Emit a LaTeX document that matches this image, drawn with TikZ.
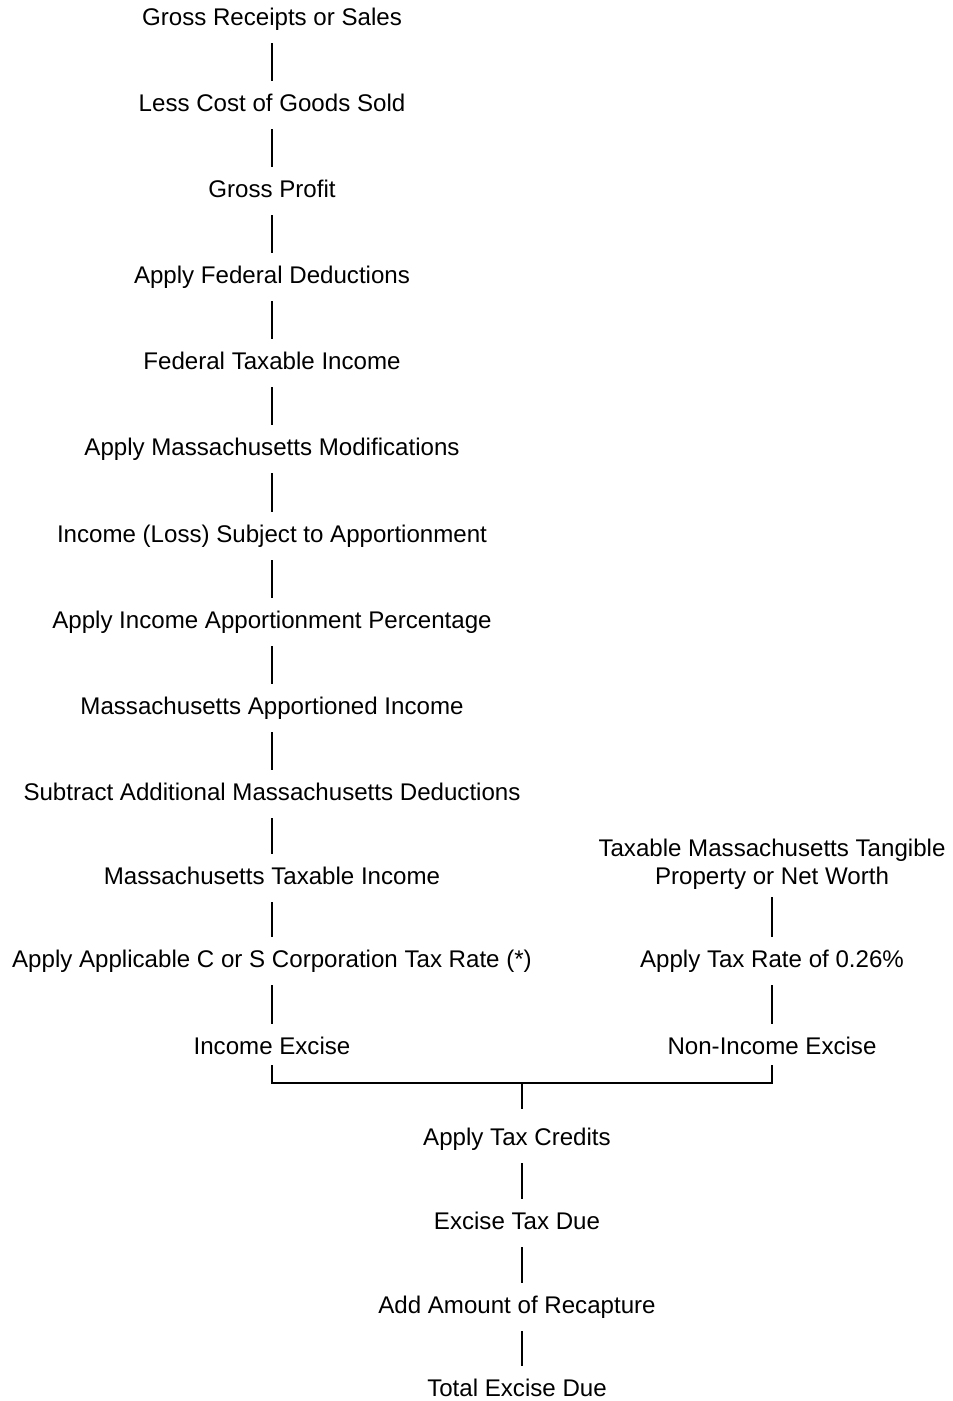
\documentclass[tikz,border=0pt]{standalone}
\usepackage{fontspec}
\setmainfont{Liberation Sans}
\begin{document}
\begin{tikzpicture}[x=1pt,y=-1pt,
  lbl/.style={inner sep=0pt, anchor=base, text height=30pt, text depth=18pt, font=\fontsize{24.1}{28}\selectfont},
  ml/.style={inner sep=0pt, align=center, font=\fontsize{24.1}{28}\selectfont},
  conn/.style={line width=1.3pt}]
\useasboundingbox (0,0) rectangle (953,1401);
% left column (positions are baselines)
\node[lbl] (n1) at (272,25) {Gross Receipts or Sales};
\node[lbl] (n2) at (272,111) {Less Cost of Goods Sold};
\node[lbl] (n3) at (272,197) {Gross Profit};
\node[lbl] (n4) at (272,283) {Apply Federal Deductions};
\node[lbl] (n5) at (272,369) {Federal Taxable Income};
\node[lbl] (n6) at (272,455) {Apply Massachusetts Modifications};
\node[lbl] (n7) at (272,542) {Income (Loss) Subject to Apportionment};
\node[lbl] (n8) at (272,628) {Apply Income Apportionment Percentage};
\node[lbl] (n9) at (272,714) {Massachusetts Apportioned Income};
\node[lbl] (n10) at (272,800) {Subtract Additional Massachusetts Deductions};
\node[lbl] (n11) at (272,884) {Massachusetts Taxable Income};
\node[lbl] (n12) at (272,967) {Apply Applicable C or S Corporation Tax Rate (*)};
\node[lbl] (n13) at (272,1054) {Income Excise};
% right column
\node[ml] (r1) at (772,864) {Taxable Massachusetts Tangible\\Property or Net Worth};
\node[lbl] (r2) at (772,967) {Apply Tax Rate of 0.26\%};
\node[lbl] (r3) at (772,1054) {Non-Income Excise};
% bottom column
\node[lbl] (b1) at (517,1145) {Apply Tax Credits};
\node[lbl] (b2) at (517,1229) {Excise Tax Due};
\node[lbl] (b3) at (517,1313) {Add Amount of Recapture};
\node[lbl] (b4) at (517,1396) {Total Excise Due};
% connectors
\foreach \a/\b in {n1/n2,n2/n3,n3/n4,n4/n5,n5/n6,n6/n7,n7/n8,n8/n9,n9/n10,n10/n11,n11/n12,n12/n13,r2/r3}
  \draw[conn] (\a.south) -- (\b.north);
\draw[conn] ([yshift=-8pt]r1.south) -- (r2.north);
\coordinate (j) at (522,1083);
\draw[conn] ([yshift=7pt]n13.south) |- (j) -| ([yshift=7pt]r3.south);
\draw[conn] (j) -- ([xshift=5pt,yshift=6pt]b1.north);
\foreach \a/\b in {b1/b2,b2/b3,b3/b4}
  \draw[conn] ([xshift=5pt]\a.south) -- ([xshift=5pt]\b.north);
\end{tikzpicture}
\end{document}
